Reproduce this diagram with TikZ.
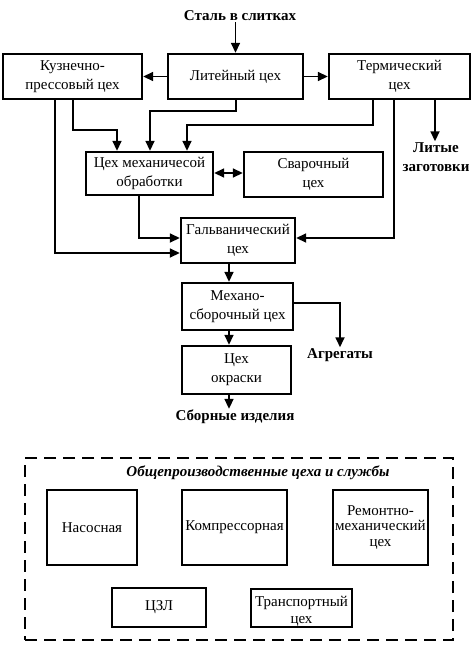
\documentclass[tikz,border=0pt]{standalone}
\usepackage{fontspec}
\setmainfont{Liberation Serif}
\usetikzlibrary{arrows.meta,calc}
\begin{document}
\begin{tikzpicture}[x=1pt,y=-1pt,
  box/.style={draw,line width=2.4pt,align=center,inner sep=1pt,font=\fontsize{15}{19}\selectfont},
  conn/.style={line width=1.7pt},
  arr/.style={conn,-{Triangle[length=10pt,width=9pt]}},
  darr/.style={conn,{Triangle[length=10pt,width=9pt]}-{Triangle[length=10pt,width=9pt]}},
  lbl/.style={font=\fontsize{15}{19}\selectfont\bfseries,align=center,inner sep=1pt},
  frame/.style={draw,line width=2.8pt,dash pattern=on 12pt off 7pt}]
\useasboundingbox (0,0) rectangle (474,648);
% main row
\node[box,minimum width=139pt,minimum height=45pt] (kuz) at (72.5,76.5) {Кузнечно-\\прессовый цех};
\node[box,minimum width=135pt,minimum height=45pt] (lit) at (235.5,76.5) {Литейный цех};
\node[box,minimum width=141pt,minimum height=45pt] (term) at (399.5,76.5) {Термический\\цех};
\node[box,minimum width=127pt,minimum height=43pt] (mech) at (149.5,173.5) {Цех механичесой\\обработки};
\node[box,minimum width=139pt,minimum height=45pt] (svar) at (313.5,174.5) {Сварочный\\цех};
\node[box,minimum width=114pt,minimum height=45pt] (galv) at (238,240.5) {Гальванический\\цех};
\node[box,minimum width=111pt,minimum height=47pt] (mont) at (237.5,306.5) {Механо-\\сборочный цех};
\node[box,minimum width=109pt,minimum height=48pt] (okr) at (236.5,370) {Цех\\окраски};
% labels
\node[lbl] (stal) at (240,16) {Сталь в слитках};
\node[lbl] (lity) at (436,157) {Литые\\заготовки};
\node[lbl] (agr) at (340,355) {Агрегаты};
\node[lbl] (sbor) at (235,417) {Сборные изделия};
% connectors
\draw[arr] (lit.north |- stal.south) -- (lit.north);
\draw[arr] (lit.west) -- (kuz.east);
\draw[arr] (lit.east) -- (term.west);
\draw[arr] (55,0 |- kuz.south) |- (galv.west |- 0,253);
\draw[arr] (73,0 |- kuz.south) |- (117,130) -- (117,0 |- mech.north);
\draw[arr] (236,0 |- lit.south) |- (150,111) -- (150,0 |- mech.north);
\draw[arr] (373,0 |- term.south) |- (187,125) -- (187,0 |- mech.north);
\draw[arr] (394,0 |- term.south) |- (galv.east |- 0,238);
\draw[arr] (435,0 |- term.south) -- (435,0 |- lity.north);
\draw[darr] (mech.east |- 0,173) -- (svar.west |- 0,173);
\draw[arr] (139,0 |- mech.south) |- (galv.west |- 0,238);
\draw[arr] (229,0 |- galv.south) -- (229,0 |- mont.north);
\draw[arr] (229,0 |- mont.south) -- (229,0 |- okr.north);
\draw[arr] (mont.east |- 0,303) -| (agr.north);
\draw[arr] (229,0 |- okr.south) -- (229,0 |- sbor.north);
% services
\node[frame,minimum width=428pt,minimum height=182pt] (grp) at (239,549) {};
\node[font=\fontsize{15}{19}\selectfont\bfseries\itshape,inner sep=1pt] (grpt) at (258,473) {Общепроизводственные цеха и службы};
\node[box,minimum width=90pt,minimum height=75pt] (nas) at (92,527.5) {Насосная};
\node[box,minimum width=105pt,minimum height=75pt] (komp) at (234.5,527.5) {Компрессорная};
\node[box,minimum width=95pt,minimum height=75pt,font=\fontsize{15}{15.5}\selectfont] (rem) at (380.5,527.5) {Ремонтно-\\механический\\цех};
\node[box,minimum width=94pt,minimum height=39pt] (czl) at (159,607.5) {ЦЗЛ};
\node[box,minimum width=101pt,minimum height=38pt] (trans) at (301.5,608) {};
\node[align=center,inner sep=0pt,font=\fontsize{15}{17}\selectfont] (transt) at ($(trans.center)+(0,3)$) {Транспортный\\цех};
\end{tikzpicture}
\end{document}
